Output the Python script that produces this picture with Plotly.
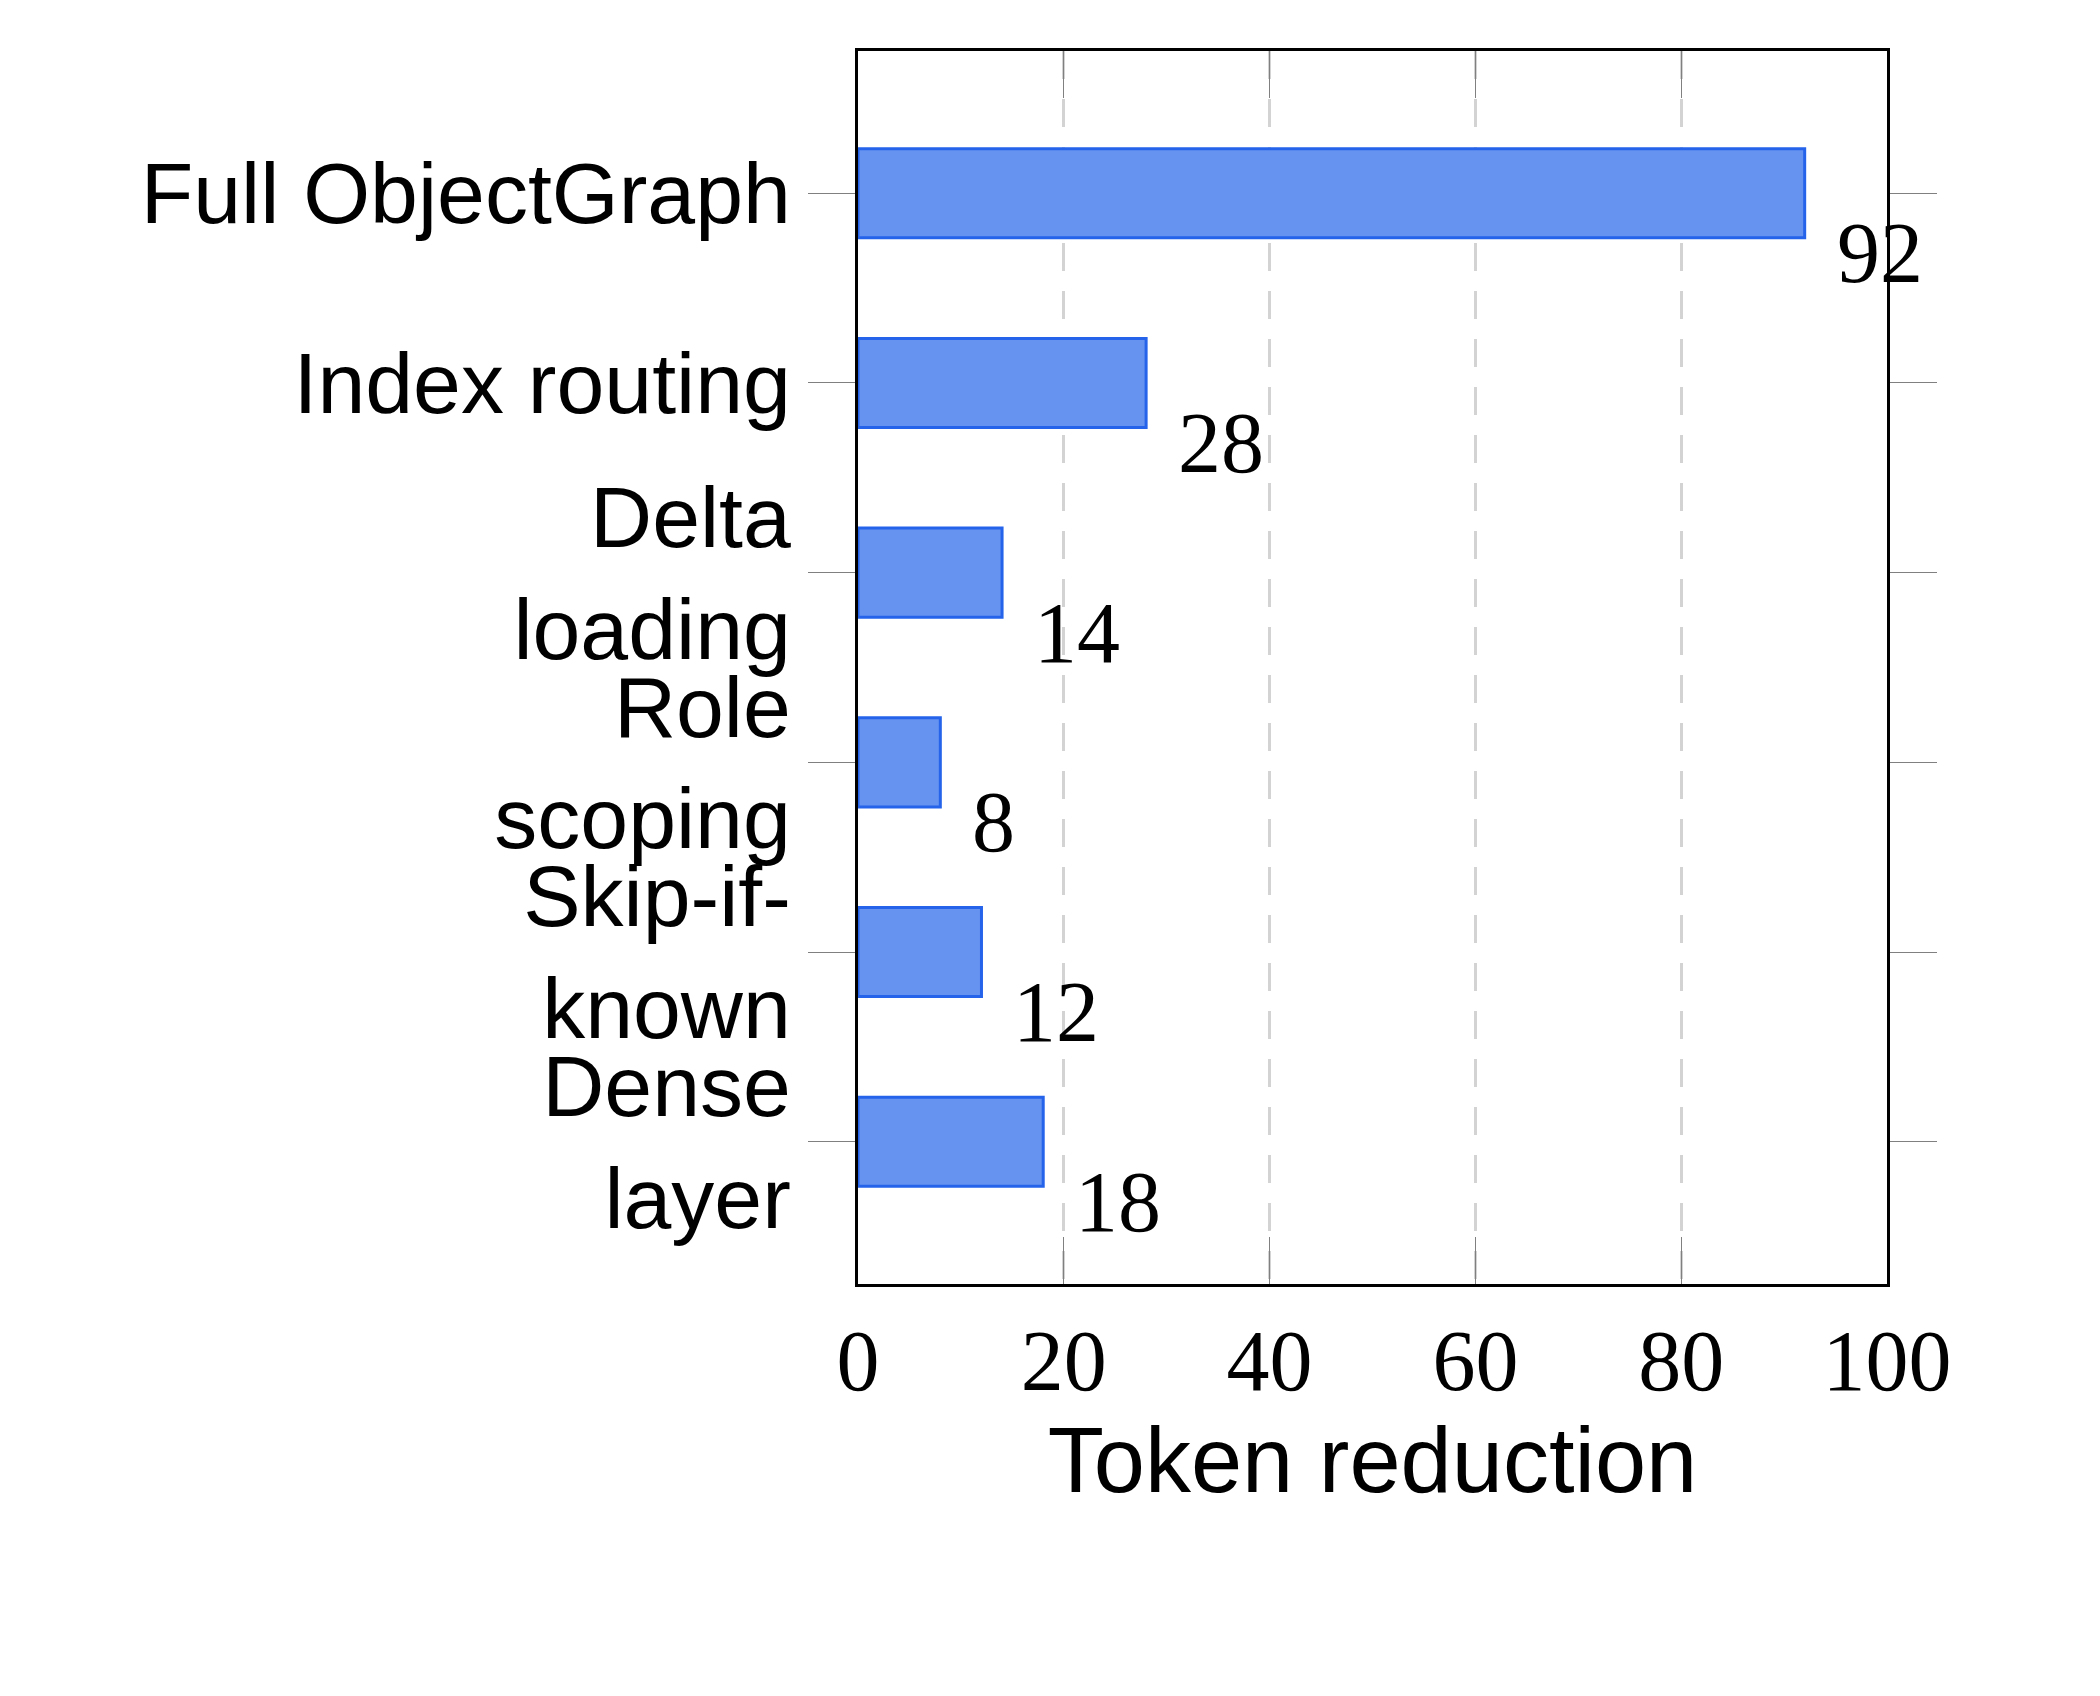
import plotly.graph_objects as go

categories = ["Full ObjectGraph", "Index routing", "Delta<br>loading", "Role<br>scoping", "Skip-if-<br>known", "Dense<br>layer"]
values = [92, 28, 14, 8, 12, 18]
xticks = [0, 20, 40, 60, 80, 100]

fig = go.Figure(go.Bar(
    x=values, y=categories, orientation="h", width=0.47,
    marker=dict(color="#6693EF", line=dict(color="#2563EB", width=3)),
))
for v, c in zip(values, categories):
    fig.add_annotation(x=v, y=c, text=str(v), showarrow=False, xanchor="left", yanchor="top",
                       xshift=30, yshift=-10,
                       font=dict(family="Liberation Serif", size=86, color="black"))

fig.update_layout(
    width=2100, height=1528, plot_bgcolor="white", paper_bgcolor="white",
    margin=dict(l=850, r=221, t=43, b=252), showlegend=False,
    font=dict(family="Liberation Sans", color="black"),
)
fig.update_xaxes(range=[0, 100], tickvals=xticks, showgrid=True, gridcolor="#d3d3d3",
                 griddash="28px,20px", gridwidth=3, ticks="inside", ticklen=47, tickcolor="gray",
                 mirror="ticks", showline=True, linecolor="black", linewidth=3,
                 tickfont=dict(family="Liberation Serif", size=86),
                 title=dict(text="Token reduction", font=dict(size=92)), zeroline=False)
fig.update_yaxes(autorange=False, range=[5.75, -0.75], ticks="outside", ticklen=47,
                 tickcolor="gray", mirror="ticks", showline=True, linecolor="black",
                 linewidth=3, tickfont=dict(size=86), showgrid=False)
fig.write_html("out.html")
